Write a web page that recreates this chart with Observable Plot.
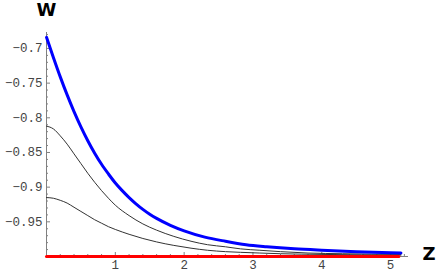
<!DOCTYPE html>
<html><head><meta charset="utf-8">
<script src="https://cdn.jsdelivr.net/npm/d3@7"></script>
<script src="https://cdn.jsdelivr.net/npm/@observablehq/plot@0.6"></script>
<style>
body{margin:0;background:#fff;}
#chart svg{display:block;}
</style>
</head><body><div id="chart"></div>
<script>
// Blue (thick) curve
const blueZ = [0, 0.1, 0.2, 0.3, 0.4, 0.5, 0.6, 0.7, 0.8, 0.9, 1.0, 1.1, 1.2, 1.3, 1.4, 1.5, 1.6, 1.8, 2.0, 2.3, 2.6, 2.9, 3.2, 3.6, 4.0, 4.5, 5.15];
const blueW = [-0.684, -0.713, -0.741, -0.767, -0.791, -0.813, -0.833, -0.851, -0.867, -0.881, -0.894, -0.905, -0.915, -0.924, -0.932, -0.939, -0.945, -0.955, -0.963, -0.972, -0.978, -0.983, -0.986, -0.989, -0.991, -0.993, -0.995];
// Upper thin black curve
const upperZ = [0, 0.1, 0.2, 0.3, 0.4, 0.5, 0.6, 0.7, 0.8, 0.9, 1.0, 1.2, 1.4, 1.6, 1.85, 2.1, 2.34, 2.6, 2.82, 3.1, 3.4, 3.8, 4.3, 5.15];
const upperW = [-0.812, -0.816, -0.826, -0.838, -0.852, -0.866, -0.880, -0.893, -0.905, -0.916, -0.926, -0.941, -0.953, -0.962, -0.971, -0.978, -0.983, -0.986, -0.989, -0.991, -0.993, -0.995, -0.996, -0.997];
// Lower thin black curve
const lowerZ = [0, 0.1, 0.2, 0.3, 0.4, 0.5, 0.6, 0.7, 0.8, 0.9, 1.0, 1.2, 1.4, 1.6, 1.85, 2.1, 2.34, 2.6, 2.82, 3.1, 3.4, 4.0, 5.15];
const lowerW = [-0.915, -0.916, -0.919, -0.923, -0.929, -0.935, -0.941, -0.947, -0.952, -0.957, -0.961, -0.968, -0.974, -0.979, -0.984, -0.988, -0.991, -0.993, -0.994, -0.995, -0.996, -0.997, -0.998];
// Red baseline
const redZ = [0, 5.12];
const redW = [-1, -1];

// Ticks
const xMajor = [1, 2, 3, 4, 5];
const xMinor = [0.2,0.4,0.6,0.8,1.2,1.4,1.6,1.8,2.2,2.4,2.6,2.8,3.2,3.4,3.6,3.8,4.2,4.4,4.6,4.8,5.2];
const yMajor = [-0.95, -0.9, -0.85, -0.8, -0.75, -0.7];
const yMinor = [-0.99,-0.98,-0.97,-0.96,-0.94,-0.93,-0.92,-0.91,-0.89,-0.88,-0.87,-0.86,-0.84,-0.83,-0.82,-0.81,-0.79,-0.78,-0.77,-0.76,-0.74,-0.73,-0.72,-0.71,-0.69,-0.68];
const xTitle = "Z";
const yTitle = "W";

const rows = (zs, ws) => zs.map((z, i) => ({z, w: ws[i]}));

const axisColor = "#808080";
const labelColor = "#444";
const mono = "'Liberation Mono', 'DejaVu Sans Mono', monospace";
const titleFont = "'DejaVu Sans', sans-serif";

const chart = Plot.plot({
  width: 441,
  height: 273,
  marginLeft: 46,
  marginRight: 33,
  marginTop: 32,
  marginBottom: 17,
  x: {domain: [0, 5.26], axis: null},
  y: {domain: [-1, -0.677], axis: null},
  marks: [
    Plot.ruleX([0], {stroke: axisColor, strokeWidth: 1}),
    Plot.ruleY([-1], {stroke: axisColor, strokeWidth: 1}),
    Plot.axisY(yMajor, {anchor: "left", label: null, tickSize: 4, dx: 4, tickFormat: () => "", stroke: axisColor}),
    Plot.axisY(yMinor, {anchor: "left", label: null, tickSize: 2, dx: 2, tickFormat: () => "", stroke: axisColor}),
    Plot.axisX(xMajor, {anchor: "bottom", label: null, tickSize: 4, dy: -4, tickFormat: () => "", stroke: axisColor}),
    Plot.axisX(xMinor, {anchor: "bottom", label: null, tickSize: 2, dy: -2, tickFormat: () => "", stroke: axisColor}),
    Plot.axisY(yMajor, {anchor: "left", label: null, tickSize: 0, tickPadding: 4, tickFormat: d => String(d).replace("-", "\u2212"), fontFamily: mono, fontSize: 12.5, fill: labelColor}),
    Plot.axisX(xMajor, {anchor: "bottom", label: null, tickSize: 0, tickPadding: 4, tickFormat: d => String(d), fontFamily: mono, fontSize: 12.5, fill: labelColor}),
    Plot.line(rows(lowerZ, lowerW), {x: "z", y: "w", stroke: "#333", strokeWidth: 1, curve: "monotone-x"}),
    Plot.line(rows(upperZ, upperW), {x: "z", y: "w", stroke: "#333", strokeWidth: 1, curve: "monotone-x"}),
    Plot.line(rows(blueZ, blueW), {x: "z", y: "w", stroke: "#0000ff", strokeWidth: 3, curve: "monotone-x"}),
    Plot.line(rows(redZ, redW), {x: "z", y: "w", stroke: "#ff0000", strokeWidth: 3}),
    Plot.text([yTitle], {text: d => d, frameAnchor: "top-left", dy: -22, fontFamily: titleFont, fontWeight: "bold", fontSize: 18, fill: "#000", textAnchor: "middle", lineAnchor: "middle"}),
    Plot.text([xTitle], {text: d => d, frameAnchor: "bottom-right", dx: 14, dy: -2, fontFamily: titleFont, fontWeight: "bold", fontSize: 18, fill: "#000", textAnchor: "start", lineAnchor: "middle"})
  ]
});
document.getElementById("chart").appendChild(chart);
</script>
</body></html>
